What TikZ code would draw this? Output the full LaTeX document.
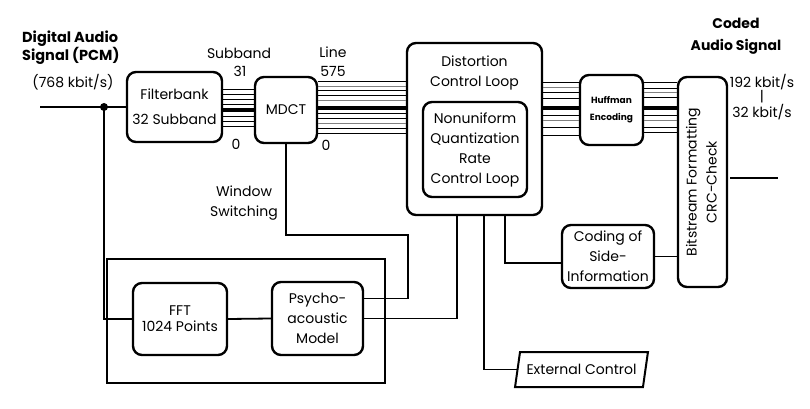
\documentclass[tikz,border=0pt]{standalone}
\usepackage{fontspec}
\setmainfont{Poppins}
\usetikzlibrary{shapes.geometric}
\begin{document}
\begin{tikzpicture}[x=1pt,y=-1pt,
  box/.style={draw, line width=2.4pt, rounded corners=9pt, align=center, inner sep=0pt, font=\fontsize{14}{20}\selectfont},
  conn/.style={line width=1.8pt},
  lbl/.style={align=center, inner sep=0pt, font=\fontsize{14}{20}\selectfont},
  blbl/.style={align=center, inner sep=0pt, font=\bfseries\fontsize{14}{16}\selectfont},
  bus/.style={line width=0.8pt},
  busg/.style={line width=0.8pt, black!50},
  busthick/.style={line width=3.2pt}]
\useasboundingbox (0,0) rectangle (810,409);
\fill[white] (0,0) rectangle (810,409);

% group frame
\node[draw, line width=1.1pt, minimum width=278, minimum height=124, inner sep=0pt] (grp) at (246,321) {};

% boxes
\node[box, minimum width=95, minimum height=70] (fb) at (174.5,107) {Filterbank\\[5pt]32 Subband};
\node[box, minimum width=62, minimum height=66] (mdct) at (286,110) {MDCT};
\node[box, minimum width=135, minimum height=172, text depth=0pt] (dist) at (474.5,129) {};
\node[lbl, anchor=north] (distt) at (dist.north) [yshift=-14pt] {Distortion\\Control Loop};
\node[box, minimum width=104, minimum height=95] (nq) at (475,149.5) {Nonuniform\\Quantization\\Rate\\Control Loop};
\node[box, minimum width=63, minimum height=70, font=\bfseries\fontsize{9}{17}\selectfont] (huff) at (611.5,110) {Huffman\\Encoding};
\node[box, minimum width=49, minimum height=210] (bit) at (702.5,182) {\rotatebox{90}{\begin{tabular}{@{}c@{}}Bitstream Formatting\\[0pt]CRC-Check\end{tabular}}};
\node[box, minimum width=92, minimum height=63] (side) at (608,256.5) {Coding of\\Side-\\Information};
\node[draw, line width=2pt, trapezium, trapezium left angle=67, trapezium right angle=113, trapezium stretches=true, minimum width=133, minimum height=35, inner sep=0pt, font=\fontsize{14}{20}\selectfont] (ext) at (581.5,369.5) {External Control};
\node[box, minimum width=94, minimum height=72, font=\fontsize{14}{16}\selectfont] (fft) at (180,319) {FFT\\1024 Points};
\node[box, minimum width=91, minimum height=73] (psy) at (317.5,318.5) {Psycho-\\acoustic\\Model};

% labels
\node[blbl, align=left, anchor=west, font=\bfseries\fontsize{14.5}{15}\selectfont] (inlbl) at (22,48) {Digital Audio\\Signal (PCM)};
\node[lbl] (rate) at (73,82) {(768 kbit/s)};
\node[lbl] (sub) at (239,53) {Subband};
\node[lbl] (s31) at (240,71) {31};
\node[lbl] (s0) at (236,144) {0};
\node[lbl] (line) at (333,52) {Line};
\node[lbl] (l575) at (333,71) {575};
\node[lbl] (l0) at (326,145) {0};
\node[lbl] (ws) at (244,203) {Window\\Switching};
\node[blbl, font=\bfseries\fontsize{14}{22}\selectfont] (coded) at (736,36) {Coded\\Audio Signal};
\node[lbl, font=\fontsize{14}{14.5}\selectfont] (orate) at (762,97) {192 kbit/s\\|\\32 kbit/s};

% input
\coordinate (in) at (40,107);
\coordinate (j) at (104,107);
\draw[conn] (in) -- (fb.west);
\fill (j) circle (4);
\draw[conn] (j) |- (fft.west);
\draw[conn] (fft.east) -- (psy.west);

% bundles
\foreach \y in {89,94,99,104,116,121,126} \draw[bus] (fb.east |- 0,\y) -- (mdct.west |- 0,\y);
\draw[busthick] (fb.east |- 0,110) -- (mdct.west |- 0,110);
\foreach \y in {81,90,95,113,118,128,133} \draw[bus] (mdct.east |- 0,\y) -- (dist.west |- 0,\y);
\foreach \y in {86,100,123} \draw[busg] (mdct.east |- 0,\y) -- (dist.west |- 0,\y);
\draw[busthick] (mdct.east |- 0,108) -- (dist.west |- 0,108);
\foreach \y in {82,92,98,115,127,135} \draw[bus] (dist.east |- 0,\y) -- (huff.west |- 0,\y);
\foreach \y in {87,120} \draw[busg] (dist.east |- 0,\y) -- (huff.west |- 0,\y);
\draw[busthick] (dist.east |- 0,108) -- (huff.west |- 0,108);
\foreach \y in {82,88,97,115,127,132} \draw[bus] (huff.east |- 0,\y) -- (bit.west |- 0,\y);
\foreach \y in {92,120} \draw[busg] (huff.east |- 0,\y) -- (bit.west |- 0,\y);
\draw[busthick] (huff.east |- 0,108) -- (bit.west |- 0,108);

% window switching
\coordinate (wsc) at (408,235);
\draw[conn] (mdct.south) |- (wsc) |- ([yshift=20pt]psy.east);
\draw[conn] (psy.east) -| ([xshift=-17.5pt]dist.south);
\draw[conn] ([xshift=9.5pt]dist.south) |- (ext.west);
\draw[conn] ([xshift=30.5pt]dist.south) |- ([yshift=-6.5pt]side.west);
\draw[conn] (side.east) -- (side.east -| bit.west);

% output
\coordinate (out1) at (730,178);
\coordinate (out2) at (778,178);
\draw[conn] (out1) -- (out2);
\end{tikzpicture}
\end{document}
